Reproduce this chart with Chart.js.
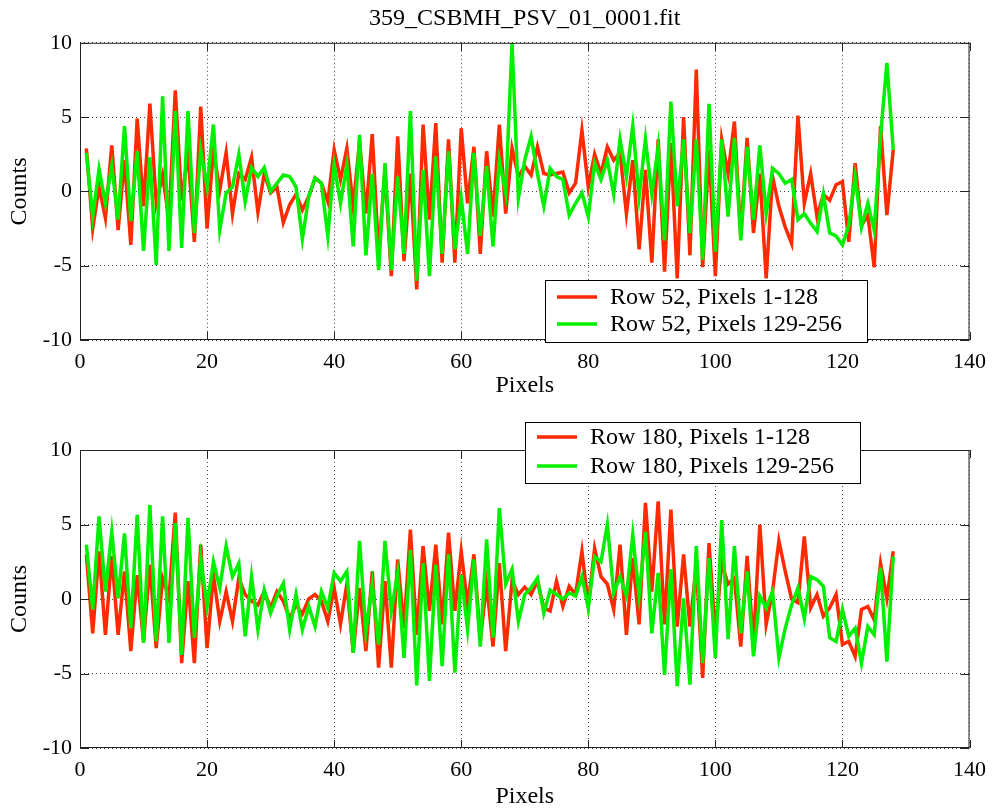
<!DOCTYPE html>
<html>
<head>
<meta charset="utf-8">
<script src="https://cdn.jsdelivr.net/npm/chart.js@4.4.1/dist/chart.umd.min.js"></script>
<style>
  html, body { margin: 0; padding: 0; background: #fff; overflow: hidden; }
  #wrap { position: relative; width: 995px; height: 809px; }
  #topChart { position: absolute; left: 0; top: 0; }
  #bottomChart { position: absolute; left: 0; top: 400px; }
</style>
</head>
<body>
<div id="wrap">
  <canvas id="topChart" width="995" height="400"></canvas>
  <canvas id="bottomChart" width="995" height="409"></canvas>
</div>
<script>
// pixel index 1..128 along the row
const pixels = Array.from({ length: 128 }, (_, i) => i + 1);

const xTicks = [0, 20, 40, 60, 80, 100, 120, 140];
const yTicks = [-10, -5, 0, 5, 10];

// Row 52
const row52a = [
  2.9, -2.5, 0.3, -1.8, 3.1, -2.6, 2.1, -3.6, 4.9, -1.0,
  5.9, -0.8, 1.1, -1.9, 6.8, -0.6, 2.6, -3.4, 5.7, -2.5,
  2.8, 0.1, 2.6, -1.5, 1.2, 0.8, 2.3, -1.4, 1.2, -0.1,
  0.3, -2.1, -0.9, -0.2, -1.25, -0.35, 0.9, 0.55, -0.7, 2.8,
  0.8, 2.9, -1.0, 3.35, -1.5, 3.85, -4.2, 1.45, -5.7, 3.7,
  -4.7, 1.2, -6.6, 4.5, -1.9, 4.6, -4.8, 3.5, -4.8, 4.25,
  -0.8, 3.0, -4.2, 2.7, -1.7, 4.5, -1.5, 2.9, 1.0, 1.7,
  1.1, 3.0, 1.2, 1.1, 1.2, 1.3, -0.1, 0.55, 4.1, 0.3,
  2.5, 1.2, 3.0, 2.1, 2.6, -1.5, 2.1, -3.9, 1.45, -4.8,
  3.5, -5.4, 3.25, -5.85, 5.0, -4.3, 8.2, -5.1, 2.8, -5.7,
  3.5, 1.2, 4.7, -3.0, 3.6, -2.8, 1.2, -5.85, 1.0, -1.0,
  -2.4, -3.5, 5.1, -0.8, 1.2, -1.7, -0.2, -0.6, 0.45, 0.65,
  -3.4, 1.9, -2.3, -1.6, -5.1, 4.4, -1.6, 2.8
];
const row52b = [
  2.6, -1.7, 1.5, -0.8, 1.7, -1.9, 4.4, -2.0, 2.7, -4.0,
  2.3, -4.95, 6.4, -4.0, 5.4, -3.8, 5.4, -2.8, 2.8, 0.3,
  4.5, -2.6, -0.1, 0.3, 2.5, -0.7, 1.6, 1.0, 1.6, 0.0,
  0.55, 1.1, 1.0, 0.3, -3.2, -0.35, 0.9, 0.55, -3.0, 1.8,
  -0.8, 1.8, -3.7, 3.8, -4.3, 1.2, -5.3, 1.9, -5.3, 1.0,
  -4.2, 5.4, -6.0, 1.45, -5.7, 2.35, -4.2, 2.7, -3.9, -0.45,
  -4.2, 2.6, -3.0, 1.7, -3.7, 2.1, -0.1, 10.0, -0.45, 2.1,
  3.7, 1.2, -1.0, 1.55, 1.0, 0.8, -1.6, -0.8, -0.1, -1.7,
  1.9, 0.8, 2.1, -0.2, 3.5, 1.0, 4.4, -0.35, 3.5, -0.2,
  3.0, -3.3, 6.05, -1.0, 3.5, -2.8, 3.5, -4.6, 5.9, -4.05,
  3.5, -1.7, 3.6, -3.3, 3.0, -1.9, 3.1, -1.5, 1.55, 1.2,
  0.55, 0.8, -1.9, -1.5, -2.15, -2.7, -0.2, -2.8, -3.0, -3.6,
  -2.3, 1.0, -2.4, -0.8, -2.6, 3.7, 8.65, 2.8
];

// Row 180
const row180a = [
  3.0, -2.3, 3.2, -2.4, 2.9, -2.4, 1.85, -3.5, 1.6, -2.85,
  2.3, -3.3, 1.4, 0.05, 5.8, -4.3, 1.2, -4.3, 3.65, -3.3,
  1.6, -1.5, 0.5, -1.5, 1.4, 0.3, -0.15, -0.4, 0.5, -0.6,
  0.5, -0.15, -1.3, -0.4, -1.0, 0.0, 0.3, -0.15, -1.5, 0.75,
  -1.7, 1.0, -3.6, 0.75, -3.5, 1.85, -4.6, 1.2, -4.6, 2.65,
  -1.95, 4.65, -2.4, 3.55, -0.8, 3.65, -1.7, 4.45, -0.8, 3.2,
  -0.4, 3.0, -2.75, 1.0, -3.2, 2.4, -3.5, 1.2, 0.3, 0.8,
  0.3, 1.2, -0.6, -0.8, 1.2, -0.5, 0.85, 0.3, 3.2, -0.4,
  3.4, 1.5, 1.0, -0.7, 3.65, -2.4, 2.75, -1.7, 6.45, 0.5,
  6.55, -1.7, 6.0, -1.85, 3.0, -1.85, 2.3, -5.3, 3.75, -2.3,
  2.4, 1.0, 1.4, -3.2, 2.9, -3.05, 5.0, -1.7, 0.5, 3.9,
  1.85, 0.0, -0.25, 4.2, -0.6, 0.3, -1.15, -0.6, 0.3, -3.05,
  -2.85, -3.85, -0.7, -0.5, -1.4, 2.4, 0.05, 3.2
];
const row180b = [
  3.65, -0.7, 5.55, 0.5, 4.5, 0.05, 4.4, -1.95, 5.65, -2.95,
  6.3, -2.85, 5.55, -2.95, 5.1, -3.75, 5.45, -2.6, 2.75, -0.5,
  2.5, 0.75, 3.55, 1.5, 2.4, -2.5, 1.5, -2.05, 0.6, -0.95,
  0.2, 1.05, -2.05, 0.3, -2.05, -0.5, -1.85, 0.5, -0.6, 1.75,
  1.2, 1.85, -3.6, 3.9, -2.2, 1.0, -3.05, 3.9, -0.8, 1.75,
  -3.95, 3.3, -5.8, 2.4, -5.5, 2.3, -4.5, 3.0, -4.95, 1.6,
  -2.05, 2.65, -3.2, 4.0, -2.6, 6.1, 1.0, 2.0, -1.5, 0.3,
  0.75, 1.4, -0.95, 0.6, 0.3, 0.0, 0.4, 0.2, 1.5, -0.6,
  2.85, 2.5, 5.0, 0.4, 1.5, 0.2, 4.3, 0.2, 4.5, -2.3,
  1.75, -5.1, 2.0, -5.85, 0.05, -5.75, 3.55, -4.3, 2.75, -3.95,
  5.3, -2.7, 3.55, -2.3, 1.85, -3.85, 0.2, -0.6, 0.5, -3.95,
  -1.95, -0.4, 0.75, -1.3, 1.5, 1.3, 0.85, -2.6, -2.85, -0.7,
  -2.5, -1.95, -4.3, -1.85, -2.4, 2.1, -4.2, 2.85
];

const RED = "#ff2a00";
const GREEN = "#00f000";
const FONT = '"Liberation Serif", "Times New Roman", serif';

const toPoints = (vals) => vals.map((v, i) => ({ x: pixels[i], y: v }));

// axes frame, inward tick marks and boxed legend, matlab style
const matlabBox = {
  id: "matlabBox",
  afterDraw(chart, args, opts) {
    const { ctx, chartArea: a, scales } = chart;
    ctx.save();
    ctx.strokeStyle = "#222";
    ctx.lineWidth = 1;
    ctx.strokeRect(a.left + 0.5, a.top + 0.5, a.width - 1, a.height - 1);
    ctx.beginPath();
    xTicks.forEach((t) => {
      const px = Math.round(scales.x.getPixelForValue(t)) + 0.5;
      ctx.moveTo(px, a.bottom); ctx.lineTo(px, a.bottom - 8);
      ctx.moveTo(px, a.top); ctx.lineTo(px, a.top + 8);
    });
    yTicks.forEach((t) => {
      const py = Math.round(scales.y.getPixelForValue(t)) + 0.5;
      ctx.moveTo(a.left, py); ctx.lineTo(a.left + 9, py);
      ctx.moveTo(a.right, py); ctx.lineTo(a.right - 9, py);
    });
    ctx.stroke();

    // legend
    const b = opts.box;
    ctx.fillStyle = "#fff";
    ctx.fillRect(b.x, b.y, b.w, b.h);
    ctx.strokeStyle = "#000";
    ctx.strokeRect(b.x + 0.5, b.y + 0.5, b.w, b.h);
    ctx.font = "24px " + FONT;
    ctx.textBaseline = "middle";
    ctx.textAlign = "left";
    opts.rows.forEach((r) => {
      ctx.strokeStyle = r.color;
      ctx.lineWidth = 3.5;
      ctx.beginPath();
      ctx.moveTo(b.x + 12, r.y);
      ctx.lineTo(b.x + 52, r.y);
      ctx.stroke();
      ctx.fillStyle = "#000";
      ctx.fillText(r.label, b.x + 65, r.y + 1);
    });
    ctx.restore();
  },
};

function makeChart(id, redVals, greenVals, labels, opts) {
  return new Chart(document.getElementById(id).getContext("2d"), {
    type: "line",
    data: {
      datasets: [
        {
          label: labels[0],
          data: toPoints(redVals),
          borderColor: RED,
          borderWidth: 3.5,
          pointRadius: 0,
          tension: 0,
          order: 2,
        },
        {
          label: labels[1],
          data: toPoints(greenVals),
          borderColor: GREEN,
          borderWidth: 3.5,
          pointRadius: 0,
          tension: 0,
          order: 1,
        },
      ],
    },
    options: {
      responsive: false,
      animation: false,
      layout: { padding: { left: 0, right: 20, top: opts.padTop, bottom: 0 } },
      plugins: {
        legend: { display: false },
        tooltip: { enabled: false },
        title: {
          display: !!opts.title,
          text: opts.title || "",
          fullSize: false,
          color: "#000",
          font: { family: FONT, size: 24, weight: "normal", lineHeight: 1.2 },
          padding: { top: 4, bottom: 10 },
        },
        matlabBox: {
          box: opts.legendBox,
          rows: [
            { label: labels[0], color: RED, y: opts.rowY[0] },
            { label: labels[1], color: GREEN, y: opts.rowY[1] },
          ],
        },
      },
      scales: {
        x: {
          type: "linear",
          min: 0,
          max: 140,
          afterFit(scale) { scale.height = opts.xHeight; },
          afterBuildTicks(scale) { scale.ticks = xTicks.map((v) => ({ value: v })); },
          ticks: { color: "#000", padding: 9, font: { family: FONT, size: 22 } },
          grid: { color: "#444", borderDash: [1, 3], drawTicks: false },
          border: { display: false, dash: [1, 3] },
          title: {
            display: true,
            text: "Pixels",
            color: "#000",
            font: { family: FONT, size: 24, lineHeight: 1 },
            padding: { top: 0, bottom: opts.xTitlePad },
          },
        },
        y: {
          min: -10,
          max: 10,
          afterFit(scale) { scale.width = 80; },
          afterBuildTicks(scale) { scale.ticks = yTicks.map((v) => ({ value: v })); },
          ticks: { color: "#000", padding: 8, font: { family: FONT, size: 22 } },
          grid: { color: "#444", borderDash: [1, 3], drawTicks: false },
          border: { display: false, dash: [1, 3] },
          title: {
            display: true,
            text: "Counts",
            color: "#000",
            font: { family: FONT, size: 24, lineHeight: 1 },
            padding: { top: 8, bottom: 0 },
          },
        },
      },
    },
    plugins: [matlabBox],
  });
}

makeChart("topChart", row52a, row52b,
  ["Row 52, Pixels 1-128", "Row 52, Pixels 129-256"],
  {
    title: "359_CSBMH_PSV_01_0001.fit",
    padTop: 0,
    xHeight: 60,
    xTitlePad: 2,
    legendBox: { x: 545, y: 280, w: 322, h: 62 },
    rowY: [297, 324],
  });

makeChart("bottomChart", row180a, row180b,
  ["Row 180, Pixels 1-128", "Row 180, Pixels 129-256"],
  {
    title: "",
    padTop: 50,
    xHeight: 61,
    xTitlePad: 0,
    legendBox: { x: 525, y: 22, w: 335, h: 61 },
    rowY: [37, 66],
  });
</script>
</body>
</html>
